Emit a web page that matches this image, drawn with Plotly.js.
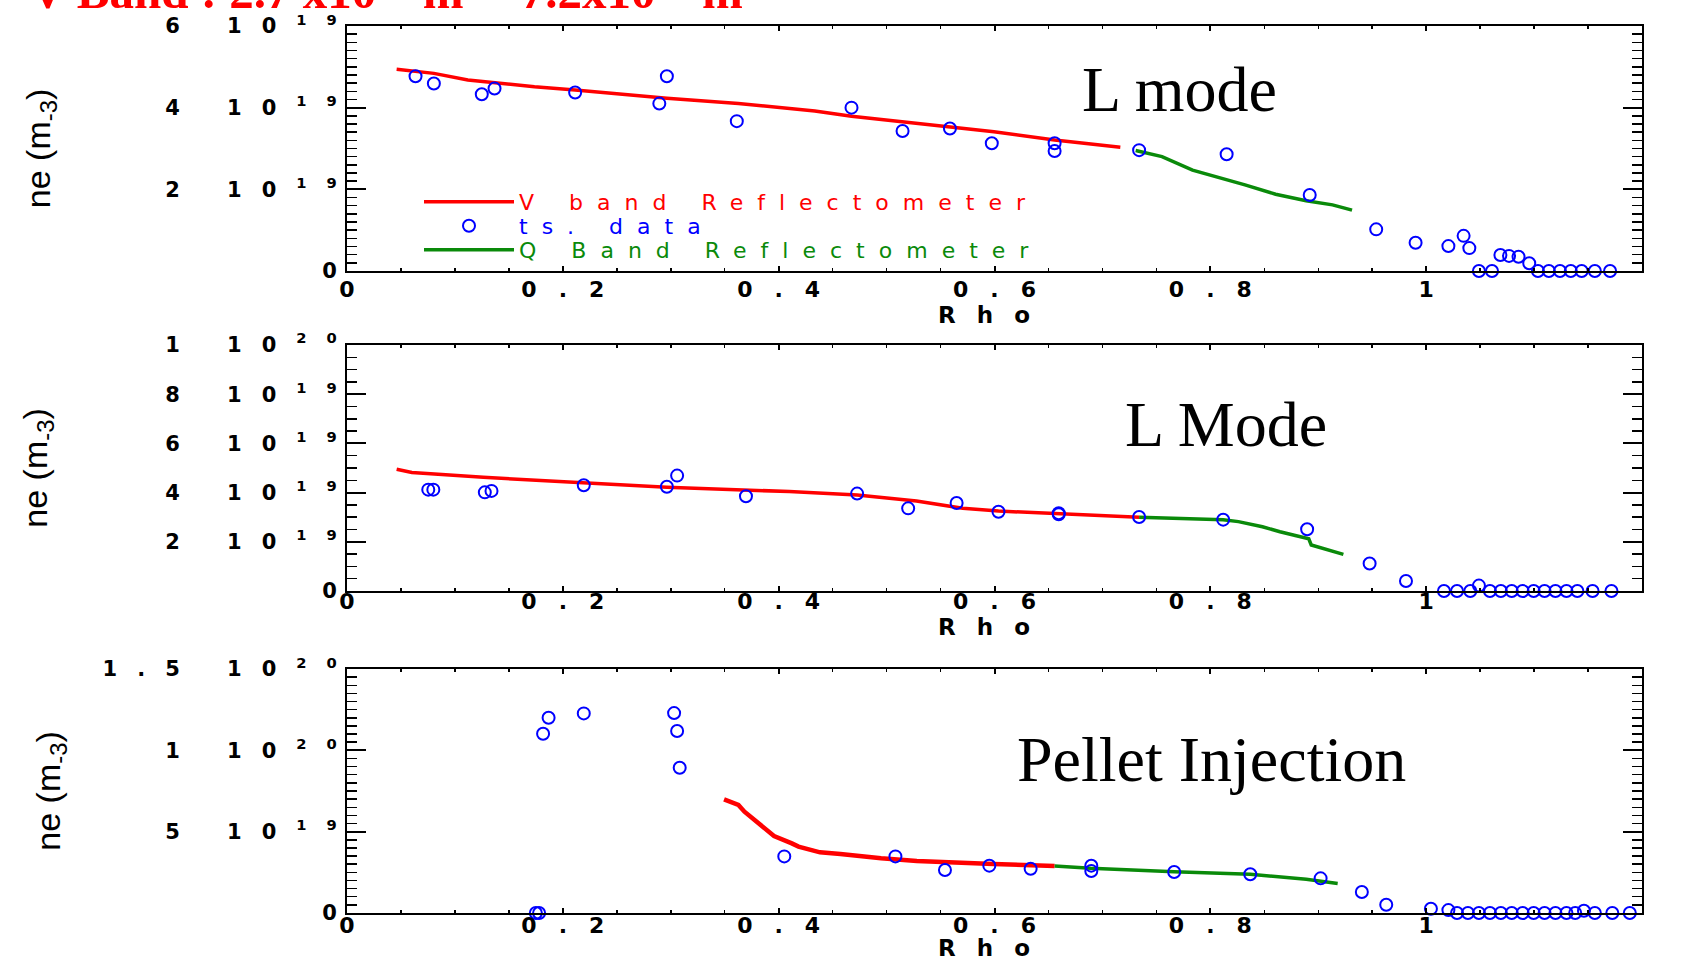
<!DOCTYPE html>
<html>
<head>
<meta charset="utf-8">
<script src="https://cdn.plot.ly/plotly-3.0.1.min.js"></script>
<style>
  html, body { margin:0; padding:0; background:#fff; }
  #chart { width:1686px; height:961px; }
  .xtick text, .x2tick text, .x3tick text { letter-spacing: 22px !important; }
  .ytick text, .y2tick text, .y3tick text { letter-spacing: 20px !important; }
  .legendtext, .legend2text, .legend3text { letter-spacing: 14px !important; }
  .xtitle, .x2title, .x3title { letter-spacing: 21px !important; }
</style>
</head>
<body>
<div id="chart"></div>
<script>
// ---------------- data (rho, electron density in units of 1e19 m^-3) ----------------
// Panel 1 : L mode
const rho1_ts = [0.0635, 0.0805, 0.1249, 0.1367, 0.2114, 0.2894, 0.2964, 0.3612, 0.4675, 0.5148, 0.5587, 0.5975, 0.6557, 0.6557, 0.734, 0.8151, 0.8921, 0.9537, 0.9902, 1.0206, 1.0347, 1.040, 1.0688, 1.0768, 1.0856, 1.0955, 1.0489, 1.061, 1.1036, 1.1137, 1.124, 1.134, 1.1441, 1.1563, 1.1704];
const ne1_ts  = [4.77, 4.59, 4.33, 4.47, 4.37, 4.10, 4.77, 3.67, 4.00, 3.43, 3.49, 3.13, 3.13, 2.94, 2.96, 2.86, 1.86, 1.02, 0.69, 0.61, 0.86, 0.56, 0.39, 0.37, 0.35, 0.19, 0, 0, 0, 0, 0, 0, 0, 0, 0];
const rho1_v  = [0.046, 0.0805, 0.112, 0.1737, 0.2114, 0.2964, 0.3627, 0.4335, 0.4675, 0.5516, 0.5995, 0.6557, 0.7166];
const ne1_v   = [4.94, 4.84, 4.68, 4.51, 4.43, 4.23, 4.10, 3.92, 3.79, 3.55, 3.41, 3.21, 3.03];
const rho1_q  = [0.7308, 0.7552, 0.7835, 0.7997, 0.8091, 0.8321, 0.8605, 0.8888, 0.9132, 0.9313];
const ne1_q   = [2.95, 2.80, 2.47, 2.35, 2.29, 2.11, 1.88, 1.72, 1.62, 1.49];

// Panel 2 : L Mode
const rho2_ts = [0.0753, 0.0800, 0.1277, 0.1339, 0.2194, 0.2964, 0.3059, 0.3697, 0.4727, 0.52, 0.5649, 0.6037, 0.6595, 0.6595, 0.734, 0.8119, 0.8897, 0.9476, 0.9813, 1.0165, 1.0286, 1.0409, 1.0489, 1.0591, 1.0692, 1.0793, 1.0894, 1.0996, 1.1097, 1.1198, 1.13, 1.1401, 1.1542, 1.1717];
const ne2_ts  = [4.12, 4.12, 4.01, 4.07, 4.30, 4.24, 4.69, 3.85, 3.96, 3.36, 3.58, 3.22, 3.16, 3.12, 3.01, 2.90, 2.51, 1.12, 0.41, 0, 0, 0, 0.22, 0, 0, 0, 0, 0, 0, 0, 0, 0, 0, 0];
const rho2_v  = [0.046, 0.0601, 0.1263, 0.2208, 0.2964, 0.4099, 0.4727, 0.5277, 0.5706, 0.6037, 0.6595, 0.734];
const ne2_v   = [4.95, 4.82, 4.62, 4.40, 4.22, 4.04, 3.90, 3.66, 3.36, 3.25, 3.13, 3.00];
const rho2_q  = [0.734, 0.7753, 0.8119, 0.826, 0.8483, 0.8645, 0.8868, 0.8912, 0.8935, 0.905, 0.9233];
const ne2_q   = [3.00, 2.94, 2.90, 2.82, 2.61, 2.41, 2.18, 2.12, 1.87, 1.73, 1.49];

// Panel 3 : Pellet Injection
const rho3_ts = [0.175, 0.178, 0.1817, 0.1868, 0.2194, 0.3031, 0.3059, 0.3083, 0.4052, 0.5082, 0.5541, 0.5952, 0.6335, 0.6897, 0.6897, 0.7665, 0.837, 0.9022, 0.9404, 0.963, 1.0044, 1.0206, 1.0286, 1.0387, 1.0489, 1.0591, 1.0692, 1.0793, 1.0894, 1.0996, 1.1097, 1.1198, 1.13, 1.1381, 1.1462, 1.1563, 1.1725, 1.1887];
const ne3_ts  = [0, 0, 11.02, 12.0, 12.27, 12.29, 11.19, 8.93, 3.48, 3.48, 2.64, 2.91, 2.72, 2.91, 2.58, 2.52, 2.38, 2.13, 1.29, 0.51, 0.26, 0.18, 0, 0, 0, 0, 0, 0, 0, 0, 0, 0, 0, 0, 0.14, 0, 0, 0];
const rho3_v  = [0.3494, 0.3627, 0.3683, 0.3816, 0.3957, 0.4122, 0.4184, 0.4383, 0.4572, 0.4949, 0.528, 0.599, 0.6557];
const ne3_v   = [6.99, 6.64, 6.23, 5.51, 4.73, 4.28, 4.08, 3.73, 3.63, 3.36, 3.20, 3.01, 2.89];
const rho3_q  = [0.6557, 0.689, 0.7665, 0.837, 0.8889, 0.918];
const ne3_q   = [2.89, 2.75, 2.54, 2.38, 2.07, 1.82];

// tick labels
const y1TickVals = [0, 2, 4, 6];
const y1TickText = ['0', '2\u00a010<sup>19</sup>', '4\u00a010<sup>19</sup>', '6\u00a010<sup>19</sup>'];
const y2TickVals = [0, 2, 4, 6, 8, 10];
const y2TickText = ['0', '2\u00a010<sup>19</sup>', '4\u00a010<sup>19</sup>', '6\u00a010<sup>19</sup>', '8\u00a010<sup>19</sup>', '1\u00a010<sup>20</sup>'];
const y3TickVals = [0, 5, 10, 15];
const y3TickText = ['0', '5\u00a010<sup>19</sup>', '1\u00a010<sup>20</sup>', '1.5\u00a010<sup>20</sup>'];

const panelLabels = ['L mode', 'L Mode', 'Pellet Injection'];
const seriesNames = ['V band Reflectometer', 'ts. data', 'Q Band Reflectometer'];
const topTitle = 'V Band : 2.7 x10<sup>19</sup> m<sup>-3</sup> -7.2x10<sup>19</sup> m<sup>-3</sup>';

// ---------------- styles ----------------
const RED = '#ff0000', GREEN = '#0a8a0a', BLUE = '#0000ff';

function lineTrace(x, y, xa, ya, color, name, show, leg, w) {
  return {type: 'scatter', mode: 'lines', x: x, y: y, xaxis: xa, yaxis: ya,
          line: {color: color, width: w}, name: name, showlegend: show, legend: leg,
          hoverinfo: 'x+y'};
}
function ptsTrace(x, y, xa, ya, show) {
  return {type: 'scatter', mode: 'markers', x: x, y: y, xaxis: xa, yaxis: ya,
          marker: {symbol: 'circle-open', size: 12, color: BLUE, line: {color: BLUE, width: 2}},
          name: '<span style="color:' + BLUE + '">' + seriesNames[1] + '</span>',
          showlegend: show, legend: 'legend2', cliponaxis: false};
}
const nmV = '<span style="color:' + RED + '">' + seriesNames[0] + '</span>';
const nmQ = '<span style="color:' + GREEN + '">' + seriesNames[2] + '</span>';

const data = [
  lineTrace(rho1_v, ne1_v, 'x', 'y', RED, nmV, true, 'legend', 3.5),
  lineTrace(rho1_q, ne1_q, 'x', 'y', GREEN, nmQ, true, 'legend3', 3.5),
  ptsTrace(rho1_ts, ne1_ts, 'x', 'y', true),
  lineTrace(rho2_v, ne2_v, 'x2', 'y2', RED, nmV, false, 'legend', 3.5),
  lineTrace(rho2_q, ne2_q, 'x2', 'y2', GREEN, nmQ, false, 'legend3', 3.5),
  ptsTrace(rho2_ts, ne2_ts, 'x2', 'y2', false),
  lineTrace(rho3_v, ne3_v, 'x3', 'y3', RED, nmV, false, 'legend', 4.5),
  lineTrace(rho3_q, ne3_q, 'x3', 'y3', GREEN, nmQ, false, 'legend3', 3.5),
  ptsTrace(rho3_ts, ne3_ts, 'x3', 'y3', false)
];

function xAxis(anchor, labStandoff, titleStandoff) {
  return {domain: [0, 1], anchor: anchor, range: [0, 1.2], autorange: false,
    tickmode: 'linear', tick0: 0, dtick: 0.2,
    ticks: 'inside', ticklen: 5, tickwidth: 2, tickcolor: 'black',
    showline: true, linecolor: 'black', linewidth: 2, mirror: 'ticks',
    showgrid: false, zeroline: false, automargin: false,
    ticklabelstandoff: labStandoff, ticklabelshift: 11,
    tickfont: {family: 'DejaVu Sans', size: 22, color: 'black', weight: 'bold'},
    minor: {tickmode: 'linear', tick0: 0, dtick: 0.05, ticks: 'inside', ticklen: 3, tickwidth: 1.5, tickcolor: 'black'},
    title: {text: 'Rho', font: {family: 'DejaVu Sans', size: 23, color: 'black', weight: 'bold'}, standoff: titleStandoff}};
}
function yAxis(anchor, domain, top, vals, texts, minorStep, titleStandoff) {
  return {domain: domain, anchor: anchor, range: [0, top], autorange: false,
    tickmode: 'array', tickvals: vals, ticktext: texts,
    ticks: 'inside', ticklen: 19, tickwidth: 2, tickcolor: 'black',
    showline: true, linecolor: 'black', linewidth: 2, mirror: 'ticks',
    showgrid: false, zeroline: false, automargin: false,
    ticklabelstandoff: -16,
    tickfont: {family: 'DejaVu Sans', size: 21, color: 'black', weight: 'bold'},
    minor: {tickmode: 'linear', tick0: 0, dtick: minorStep, ticks: 'inside', ticklen: 10, tickwidth: 1.5, tickcolor: 'black'},
    title: {text: 'ne (m<sub>-3</sub>)', font: {family: 'Liberation Sans', size: 34, color: 'black'}, standoff: titleStandoff}};
}
function legendAt(yPaper) {
  return {x: 0.0556, y: yPaper, xanchor: 'left', yanchor: 'middle', bgcolor: 'rgba(0,0,0,0)',
          borderwidth: 0, itemwidth: 90,
          font: {family: 'DejaVu Sans', size: 22, color: 'black'}};
}

const layout = {
  width: 1686, height: 961,
  margin: {l: 347, r: 44, t: 26, b: 48},
  paper_bgcolor: 'white', plot_bgcolor: 'white',
  font: {family: 'DejaVu Sans', color: 'black'},
  showlegend: true,
  legend:  legendAt(0.8016),
  legend2: legendAt(0.7745),
  legend3: legendAt(0.7475),
  xaxis:  xAxis('y', -2, 0),
  xaxis2: xAxis('y2', -10, 0),
  xaxis3: xAxis('y3', -8, 0),
  yaxis:  yAxis('x',  [0.7238, 1], 6, y1TickVals, y1TickText, 0.2, 104),
  yaxis2: yAxis('x2', [0.3630, 0.6404], 10, y2TickVals, y2TickText, 0.5, 107),
  yaxis3: yAxis('x3', [0, 0.2751], 15, y3TickVals, y3TickText, 0.5, 32),
  annotations: [
    {text: topTitle, xref: 'paper', yref: 'paper', x: -0.2463, y: 1.0053, xanchor: 'left', yanchor: 'bottom',
     showarrow: false, font: {family: 'Liberation Serif', size: 49, color: RED, weight: 'bold'}},
    {text: panelLabels[0], xref: 'paper', yref: 'paper', x: 0.6425, y: 0.9285, xanchor: 'center', yanchor: 'middle',
     showarrow: false, font: {family: 'Liberation Serif', size: 64, color: 'black'}},
    {text: panelLabels[1], xref: 'paper', yref: 'paper', x: 0.6788, y: 0.5502, xanchor: 'center', yanchor: 'middle',
     showarrow: false, font: {family: 'Liberation Serif', size: 64, color: 'black'}},
    {text: panelLabels[2], xref: 'paper', yref: 'paper', x: 0.6672, y: 0.1736, xanchor: 'center', yanchor: 'middle',
     showarrow: false, font: {family: 'Liberation Serif', size: 64, color: 'black'}}
  ]
};

Plotly.newPlot('chart', data, layout, {displayModeBar: false, staticPlot: true});
</script>
</body>
</html>
